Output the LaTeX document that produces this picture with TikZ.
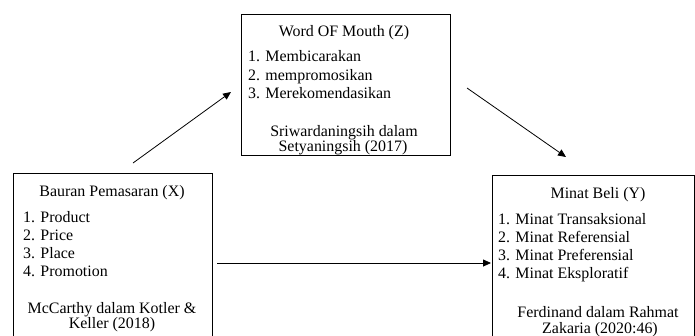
\documentclass[tikz,border=0pt]{standalone}
\usepackage{fontspec}
\setmainfont{Liberation Serif}
\usetikzlibrary{arrows.meta}
\begin{document}
\begin{tikzpicture}[x=1bp,y=-1bp,
  box/.style={draw, line width=0.8bp, inner sep=0, outer sep=0, anchor=north west},
  txt/.style={inner sep=0, font=\fontsize{16}{18}\selectfont},
  lst/.style={txt, anchor=base west},
  ctr/.style={txt, anchor=base},
  conn/.style={line width=0.8bp, -{Triangle[length=8bp,width=7bp]}}]
\useasboundingbox (0,0) rectangle (695,335);
\clip (0,0) rectangle (695,335);
% boxes
\node[box, minimum width=199bp, minimum height=180bp] (X) at (13,173) {};
\node[box, minimum width=209bp, minimum height=141bp] (Z) at (241,14) {};
\node[box, minimum width=202.5bp, minimum height=180bp] (Y) at (492,175) {};
% box X texts
\node[ctr] (xt) at (112,196) {Bauran Pemasaran (X)};
\node[lst] (x1) at (23,222.5) {1. Product};
\node[lst] (x2) at (23,240.5) {2. Price};
\node[lst] (x3) at (23,258) {3. Place};
\node[lst] (x4) at (23,276) {4. Promotion};
\node[ctr] (xc1) at (112,313) {McCarthy dalam Kotler \&};
\node[ctr] (xc2) at (112,328.5) {Keller (2018)};
% box Z texts
\node[ctr] (zt) at (344,36) {Word OF Mouth (Z)};
\node[lst] (z1) at (248,61.5) {1. Membicarakan};
\node[lst] (z2) at (248,80) {2. mempromosikan};
\node[lst] (z3) at (248,98) {3. Merekomendasikan};
\node[ctr] (zc1) at (344,136.5) {Sriwardaningsih dalam};
\node[ctr] (zc2) at (343,151.5) {Setyaningsih (2017)};
% box Y texts
\node[ctr] (yt) at (598,198) {Minat Beli (Y)};
\node[lst] (y1) at (498,224) {1. Minat Transaksional};
\node[lst] (y2) at (498,242) {2. Minat Referensial};
\node[lst] (y3) at (498,260) {3. Minat Preferensial};
\node[lst] (y4) at (498,278) {4. Minat Eksploratif};
\node[ctr] (yc1) at (598,317) {Ferdinand dalam Rahmat};
\node[ctr] (yc2) at (600,333) {Zakaria (2020:46)};
% connectors
\coordinate (a1) at (133,163);
\coordinate (a2) at (231,92);
\coordinate (b1) at (467,88);
\coordinate (b2) at (566,157);
\coordinate (c1) at (217,263);
\coordinate (c2) at (491,263);
\draw[conn] (a1) -- (a2);
\draw[conn] (b1) -- (b2);
\draw[conn] (c1) -- (c2);
\end{tikzpicture}
\end{document}
